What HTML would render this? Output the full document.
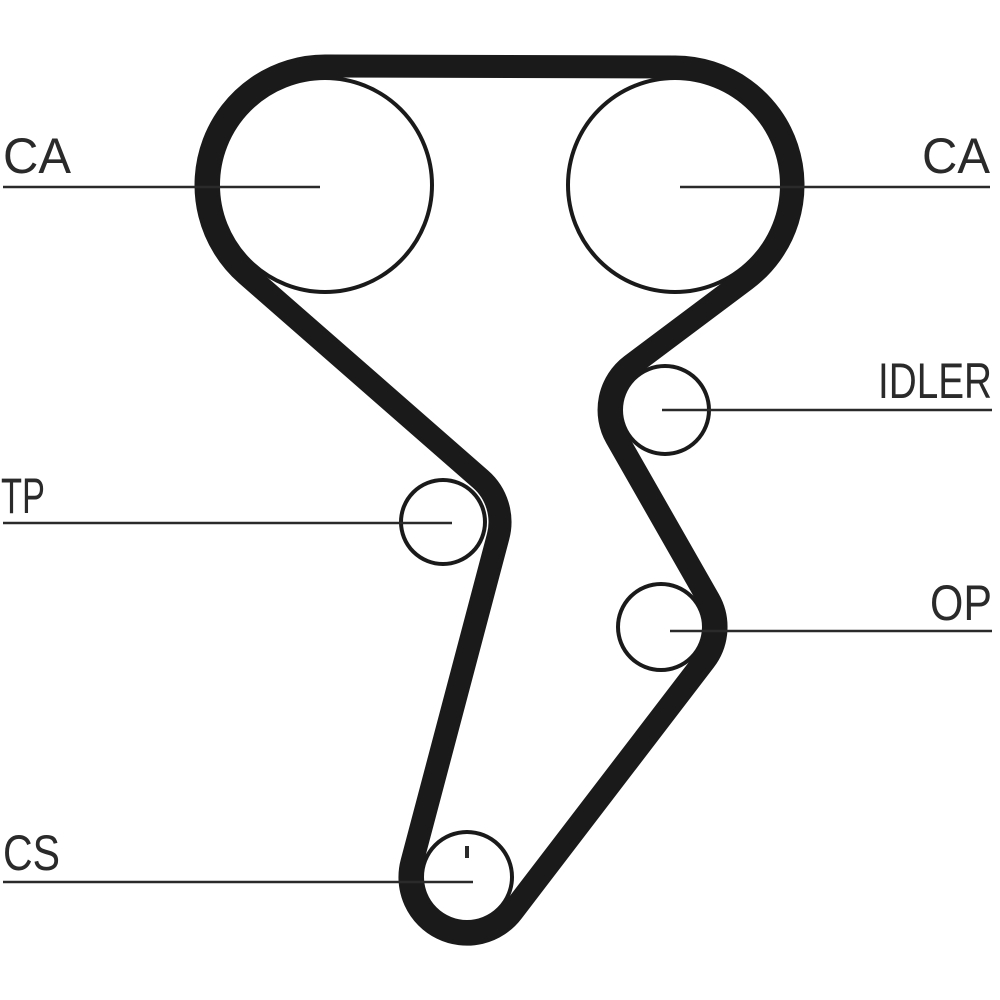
<!DOCTYPE html>
<html><head><meta charset="utf-8"><style>
html,body{margin:0;padding:0;background:#fff;}
svg{display:block;}
text{font-family:"Liberation Sans",sans-serif;font-size:50px;fill:#2a2a2a;}
</style></head><body>
<svg id="s" width="1000" height="1000" viewBox="0 0 1000 1000">
<g fill="none" stroke="#1a1a1a" stroke-width="4">
<circle cx="325" cy="185" r="107"/>
<circle cx="675" cy="185" r="107"/>
<circle cx="665" cy="410" r="44"/>
<circle cx="443" cy="522" r="42"/>
<circle cx="661" cy="627" r="43"/>
<circle cx="467" cy="877" r="45"/>
</g>
<path id="belt" fill="none" stroke="#1a1a1a" stroke-width="23" stroke-linejoin="round" d=""/>
<g stroke="#2a2a2a" stroke-width="2.5">
<line x1="3" y1="187" x2="320" y2="187"/>
<line x1="680" y1="187" x2="990" y2="187"/>
<line x1="662" y1="410" x2="992" y2="410"/>
<line x1="3" y1="523" x2="452" y2="523"/>
<line x1="670" y1="631" x2="992" y2="631"/>
<line x1="3" y1="882" x2="473" y2="882"/>
<line x1="467" y1="846" x2="467" y2="858" stroke-width="4"/>
</g>
<text x="3" y="173" textLength="68" lengthAdjust="spacingAndGlyphs">CA</text>
<text x="922" y="173" textLength="68" lengthAdjust="spacingAndGlyphs">CA</text>
<text x="878" y="398" textLength="114" lengthAdjust="spacingAndGlyphs">IDLER</text>
<text x="1" y="513" textLength="44" lengthAdjust="spacingAndGlyphs">TP</text>
<text x="930" y="620" textLength="62" lengthAdjust="spacingAndGlyphs">OP</text>
<text x="3" y="870" textLength="57" lengthAdjust="spacingAndGlyphs">CS</text>
</svg>
<script>
var C=[[325,185,119],[675,185,118],[665,410,-56],[661,627,55],[467,877,57],[443,522,-57]];
function tan(a,b){var dx=b[0]-a[0],dy=b[1]-a[1],L=Math.hypot(dx,dy);dx/=L;dy/=L;
var px=dy,py=-dx;var k=(a[2]-b[2])/L,m=Math.sqrt(1-k*k);var nx=k*dx+m*px,ny=k*dy+m*py;
return [[a[0]+a[2]*nx,a[1]+a[2]*ny],[b[0]+b[2]*nx,b[1]+b[2]*ny]];}
var n=C.length,T=[];for(var i=0;i<n;i++)T.push(tan(C[i],C[(i+1)%n]));
var d="";
for(var i=0;i<n;i++){var c=C[(i+1)%n],pin=T[i][1],pout=T[(i+1)%n][0];
var ai=Math.atan2(pin[1]-c[1],pin[0]-c[0]),ao=Math.atan2(pout[1]-c[1],pout[0]-c[0]);
var del=c[2]>0?ao-ai:ai-ao;while(del<0)del+=2*Math.PI;
if(i==0)d+="M"+T[0][0][0].toFixed(1)+","+T[0][0][1].toFixed(1);
d+=" L"+pin[0].toFixed(1)+","+pin[1].toFixed(1);
d+=" A"+Math.abs(c[2])+","+Math.abs(c[2])+" 0 "+(del>Math.PI?1:0)+" "+(c[2]>0?1:0)+" "+pout[0].toFixed(1)+","+pout[1].toFixed(1);}
d+=" Z";document.getElementById("belt").setAttribute("d",d);
</script>
</body></html>
